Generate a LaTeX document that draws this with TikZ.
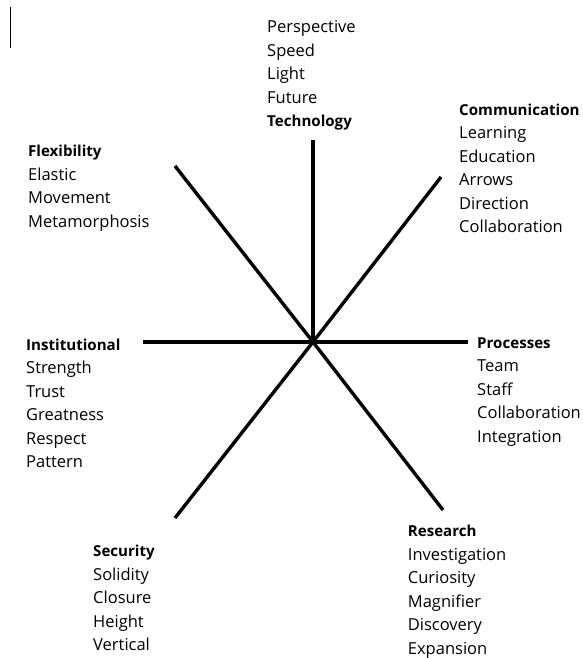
\documentclass[tikz,border=0pt]{standalone}
\usepackage{fontspec}
\setmainfont{Open Sans}
\usetikzlibrary{positioning}

% bold heading of a word list
\newcommand{\headword}[1]{{\fontsize{15.1}{23.5}\selectfont\bfseries #1}}

\begin{document}
\begin{tikzpicture}[
    x=1pt, y=-1pt,
    spoke/.style={line width=3.4pt, line cap=butt},
    % nodes are placed by the baseline of their last line
    words/.style={font=\fontsize{16.5}{23.5}\selectfont, align=left, inner sep=0pt, anchor=base west}
]
\useasboundingbox (0,0) rectangle (582,658);

% marker at the top left
\draw[line width=1pt] (10,7) -- (10,48);

% hub of the star
\coordinate (hub) at (313,342);

% spoke ends
\coordinate (techEnd) at (313,140);
\coordinate (commEnd) at (441,177);
\coordinate (procEnd) at (468,342);
\coordinate (resEnd) at (443,510);
\coordinate (secEnd) at (175,518);
\coordinate (instEnd) at (143,342);
\coordinate (flexEnd) at (175,166);

% word lists
\node[words] (tech) at (267,126.7) {Perspective\\Speed\\Light\\Future\\\headword{Technology}};
\node[words] (comm) at (459,232.5) {\headword{Communication}\\Learning\\Education\\Arrows\\Direction\\Collaboration};
\node[words] (flex) at (28,227.2) {\headword{Flexibility}\\Elastic\\Movement\\Metamorphosis};
\node[words] (inst) at (26,467.5) {\headword{Institutional}\\Strength\\Trust\\Greatness\\Respect\\Pattern};
\node[words] (proc) at (477,442.3) {\headword{Processes}\\Team\\Staff\\Collaboration\\Integration};
\node[words] (sec) at (93,650.7) {\headword{Security}\\Solidity\\Closure\\Height\\Vertical};
\node[words] (res) at (407.7,654.2) {\headword{Research}\\Investigation\\Curiosity\\Magnifier\\Discovery\\Expansion};

% spokes
\foreach \e in {techEnd,commEnd,procEnd,resEnd,secEnd,instEnd,flexEnd}
  \draw[spoke] (hub) -- (\e);

\end{tikzpicture}
\end{document}
